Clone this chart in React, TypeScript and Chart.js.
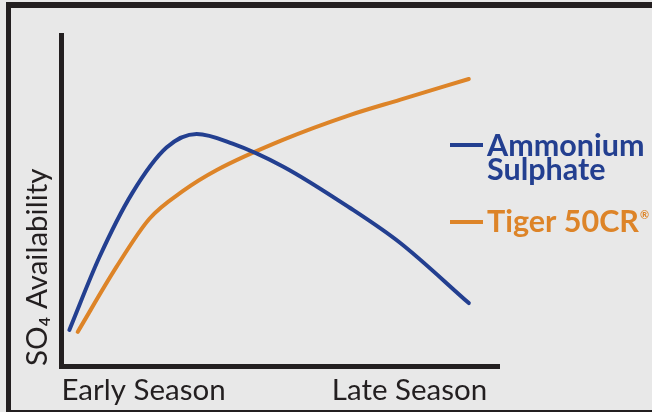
import React, { useEffect, useRef } from "react";
import { Chart, registerables } from "chart.js";

Chart.register(...registerables);

// ---- data ----
const xTickValues = [0, 97.3];
const xTickLabels = ["Early Season", "Late Season"];
const yAxisTitle = "SO₄ Availability";

const ammoniumX = [1.8, 8.7, 16.2, 24.0, 30.9, 39.1, 50.6, 65.9, 77.3, 93.1];
const ammoniumY = [10.9, 33.0, 52.3, 66.0, 70.1, 67.2, 60.3, 47.8, 37.3, 19.0];

const tigerX = [3.7, 12.6, 20.1, 27.7, 35.5, 50.6, 65.9, 77.3, 93.1];
const tigerY = [10.3, 30.0, 44.5, 52.8, 59.2, 68.3, 75.8, 80.4, 86.7];

const legendLines = [["Ammonium", "Sulphate"], ["Tiger 50CR"]];
const legendMarks = ["", "®"];

// ---- style ----
const BLUE = "#233f90";
const ORANGE = "#dd8428";
const INK = "#231f20";
const BG = "#e8e8e8";

const framePlugin = {
  id: "frameAndLegend",
  beforeDraw(chart: any) {
    const ctx = chart.ctx;
    ctx.save();
    ctx.fillStyle = BG;
    ctx.fillRect(0, 0, chart.width, chart.height);
    ctx.restore();
  },
  afterDraw(chart: any) {
    const ctx = chart.ctx;
    ctx.save();
    // frame
    ctx.fillStyle = INK;
    ctx.fillRect(6, 2, chart.width - 6, 6);
    ctx.fillRect(6, 2, 5, chart.height - 2);
    ctx.fillRect(6, chart.height - 2, chart.width - 6, 2);

    // legend
    const rows = [
      { base: 156, lineY: 145, color: chart.data.datasets[0].borderColor },
      { base: 232, lineY: 222, color: chart.data.datasets[1].borderColor },
    ];
    rows.forEach((r, i) => {
      ctx.fillStyle = r.color;
      ctx.fillRect(450, r.lineY - 2, 33, 4);
      ctx.font = "bold 30.5px Lato";
      ctx.textBaseline = "alphabetic";
      ctx.textAlign = "left";
      const lines = legendLines[i];
      lines.forEach((t, j) => {
        ctx.fillText(t, 487, r.base + j * 24);
      });
      if (legendMarks[i]) {
        const w = ctx.measureText(lines[lines.length - 1]).width;
        ctx.font = "bold 11px Lato";
        ctx.fillText(legendMarks[i], 487 + w + 1, r.base - 13);
      }
    });
    ctx.restore();
  },
};

export default function App() {
  const ref = useRef<HTMLCanvasElement | null>(null);

  useEffect(() => {
    document.body.style.margin = "0";
    const canvas = ref.current;
    if (!canvas) return;
    const chart = new Chart(canvas, {
      type: "line",
      data: {
        datasets: [
          {
            label: "Ammonium Sulphate",
            data: ammoniumX.map((x, i) => ({ x, y: ammoniumY[i] })),
            borderColor: BLUE,
            borderWidth: 4,
            pointRadius: 0,
            cubicInterpolationMode: "monotone",
            fill: false,
            borderCapStyle: "round",
          },
          {
            label: "Tiger 50CR",
            data: tigerX.map((x, i) => ({ x, y: tigerY[i] })),
            borderColor: ORANGE,
            borderWidth: 4,
            pointRadius: 0,
            cubicInterpolationMode: "monotone",
            fill: false,
            borderCapStyle: "round",
          },
        ],
      },
      options: {
        responsive: false,
        animation: false,
        layout: { padding: { top: 35, right: 153, left: 0, bottom: 0 } },
        plugins: {
          legend: { display: false },
          tooltip: { enabled: false },
        },
        scales: {
          x: {
            type: "linear",
            min: 0,
            max: 100,
            afterFit(s: any) {
              s.height = 46;
            },
            afterBuildTicks(s: any) {
              s.ticks = xTickValues.map((v) => ({ value: v }));
            },
            ticks: {
              align: "inner",
              autoSkip: false,
              maxRotation: 0,
              padding: 7,
              color: INK,
              font: { family: "Lato", size: 29.5 },
              callback: (_v: any, i: number) => xTickLabels[i],
            },
            grid: { display: false, drawTicks: false },
            border: { display: true, width: 5, color: INK },
          },
          y: {
            min: 0,
            max: 100,
            afterFit(s: any) {
              s.width = 61.5;
            },
            ticks: { display: false },
            grid: { display: false, drawTicks: false },
            border: { display: true, width: 5, color: INK },
            title: {
              display: true,
              text: yAxisTitle,
              align: "start",
              color: INK,
              font: { family: "Lato", size: 29.5 },
              padding: { top: 20, bottom: 0 },
            },
          },
        },
      } as any,
      plugins: [framePlugin],
    });
    return () => chart.destroy();
  }, []);

  return (
    <div style={{ width: 652, height: 412 }}>
      <canvas ref={ref} width={652} height={412} style={{ display: "block", width: 652, height: 412 }} />
    </div>
  );
}
